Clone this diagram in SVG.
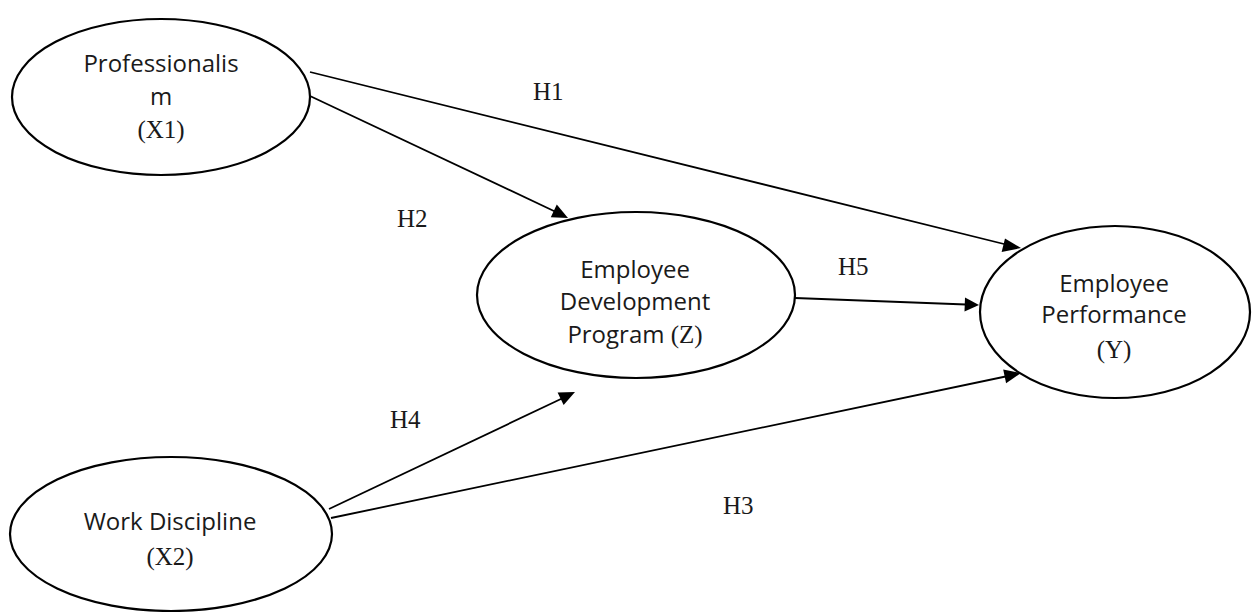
<svg xmlns="http://www.w3.org/2000/svg" width="1254" height="612" viewBox="0 0 1254 612">
<style>
.n{fill:#fff;stroke:#000;stroke-width:2.2}
.t{font-family:"Open Sans","DejaVu Sans",sans-serif;font-size:24px;fill:#1a1a1a;text-anchor:middle}
.s{font-family:"Liberation Serif","DejaVu Serif",serif;font-size:25px;fill:#1a1a1a}
.c{stroke:#000;stroke-width:1.8;fill:none}
.h{fill:#000}
</style>
<rect width="1254" height="612" fill="#fff"/>
<g id="connectors">
<line class="c" x1="310" y1="72" x2="1008" y2="245"/>
<path class="h" d="M1021,248 l-16,-9.5 l-3.4,13.6z"/>
<line class="c" x1="310" y1="96" x2="556" y2="212"/>
<path class="h" d="M568,218 l-11.2,-13.5 l-6,12.7z"/>
<line class="c" x1="795" y1="298" x2="966" y2="304.5"/>
<path class="h" d="M979,305 l-14,-7.5 l-0.5,14z"/>
<line class="c" x1="329" y1="509" x2="563" y2="398"/>
<path class="h" d="M575,392 l-17.4,0.5 l6,12.6z"/>
<line class="c" x1="331" y1="518" x2="1008" y2="376"/>
<path class="h" d="M1021,373 l-17.8,-3.4 l2.9,13.7z"/>
</g>
<g id="labels">
<text class="s" x="533" y="100">H1</text>
<text class="s" x="397" y="227">H2</text>
<text class="s" x="838" y="275">H5</text>
<text class="s" x="390" y="428">H4</text>
<text class="s" x="723" y="514">H3</text>
</g>
<g id="x1">
<ellipse class="n" cx="161" cy="97" rx="149" ry="78"/>
<text class="t" x="161" y="72">Professionalis</text>
<text class="t" x="161" y="105">m</text>
<text class="t" x="161" y="138"><tspan class="s">(X1)</tspan></text>
</g>
<g id="z">
<ellipse class="n" cx="636" cy="295" rx="159" ry="83"/>
<text class="t" x="635" y="278">Employee</text>
<text class="t" x="635" y="310">Development</text>
<text class="t" x="635" y="343">Program <tspan class="s">(Z)</tspan></text>
</g>
<g id="y">
<ellipse class="n" cx="1115" cy="312" rx="135" ry="86"/>
<text class="t" x="1114" y="292">Employee</text>
<text class="t" x="1114" y="323">Performance</text>
<text class="t" x="1114" y="358"><tspan class="s">(Y)</tspan></text>
</g>
<g id="x2">
<ellipse class="n" cx="171" cy="534" rx="161" ry="77"/>
<text class="t" x="170" y="530">Work Discipline</text>
<text class="t" x="170" y="565"><tspan class="s">(X2)</tspan></text>
</g>
</svg>
